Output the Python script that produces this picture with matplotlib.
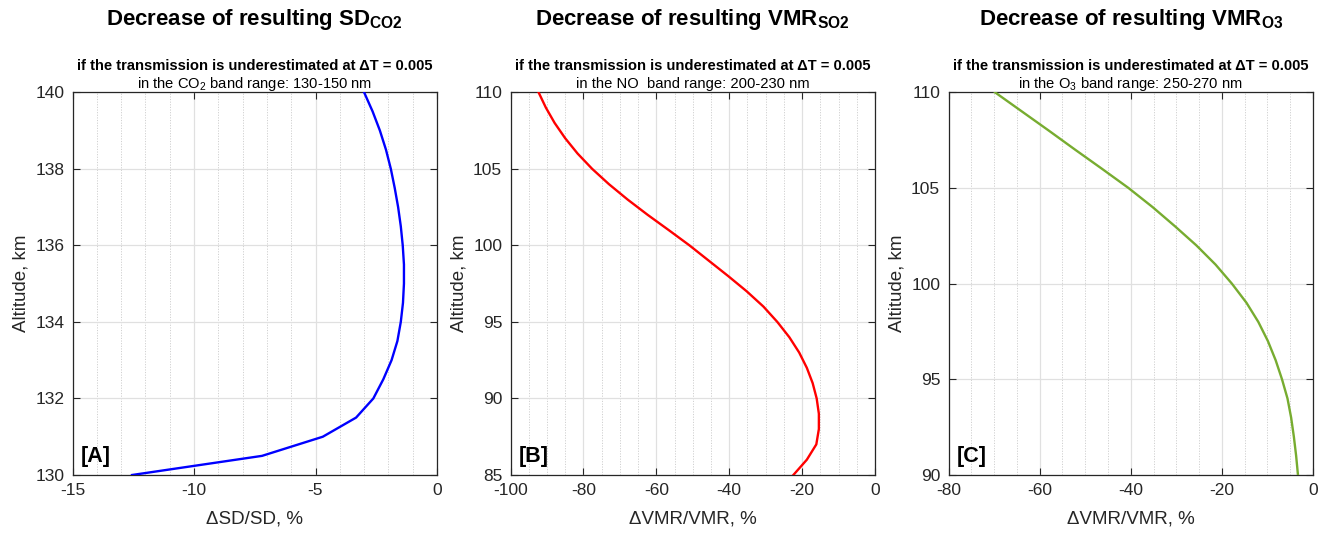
import matplotlib
matplotlib.use("Agg")
import matplotlib.pyplot as plt
from matplotlib.ticker import MultipleLocator

plt.rcParams['font.family'] = ['Liberation Sans', 'DejaVu Sans']
plt.rcParams['mathtext.fontset'] = 'custom'
plt.rcParams['mathtext.rm'] = 'Liberation Sans'
plt.rcParams['mathtext.bf'] = 'Liberation Sans:bold'
plt.rcParams['mathtext.it'] = 'Liberation Sans:italic'
plt.rcParams['axes.unicode_minus'] = False

# Panel A: CO2 slant density change
alt_a = [130, 130.5, 131, 131.5, 132, 132.5, 133, 133.5, 134, 134.5, 135,
         135.5, 136, 136.5, 137, 137.5, 138, 138.5, 139, 139.5, 140]
dsd_a = [-12.55, -7.2, -4.7, -3.33, -2.62, -2.21, -1.87, -1.63, -1.49, -1.40, -1.36,
         -1.36, -1.41, -1.49, -1.60, -1.74, -1.90, -2.10, -2.35, -2.65, -3.0]

# Panel B: SO2 VMR change
alt_b = list(range(85, 111))
dvmr_b = [-22.4, -18.7, -16.1, -15.4, -15.4, -16.0, -17.1, -18.7, -20.8, -23.5,
          -26.8, -30.6, -35.2, -40.3, -45.6, -50.9, -56.6, -62.4, -67.9, -73.0,
          -77.6, -81.6, -85.0, -87.9, -90.3, -92.3]

# Panel C: O3 VMR change
alt_c = list(range(90, 111))
dvmr_c = [-3.3, -3.7, -4.2, -4.8, -5.6, -6.8, -8.2, -9.9, -12.0, -14.6, -17.8,
          -21.4, -25.6, -30.3, -35.2, -40.5, -46.3, -52.2, -58.0, -63.9, -69.8]

titles = [r"Decrease of resulting SD$_{\mathbf{CO2}}$",
          r"Decrease of resulting VMR$_{\mathbf{SO2}}$",
          r"Decrease of resulting VMR$_{\mathbf{O3}}$"]
sub1 = "if the transmission is underestimated at \u0394T = 0.005"
sub2 = [r"in the CO$_2$ band range: 130-150 nm",
        "in the NO  band range: 200-230 nm",
        r"in the O$_3$ band range: 250-270 nm"]
xlabels = ["\u0394SD/SD, %", "\u0394VMR/VMR, %", "\u0394VMR/VMR, %"]
panel_tags = ["[A]", "[B]", "[C]"]

fig = plt.figure(figsize=(13.39, 5.38), dpi=100)
W, H = 1339, 538
lefts = [72.5, 510.5, 948.5]
axw = 364.5
bottom_px, top_px = 475, 92.3

specs = [
    (dsd_a, alt_a, 'blue', (-15, 0), (130, 140), 5, 1, 2),
    (dvmr_b, alt_b, 'red', (-100, 0), (85, 110), 20, 5, 5),
    (dvmr_c, alt_c, '#77AC30', (-80, 0), (90, 110), 20, 5, 5),
]

for i, (xv, yv, col, xl, yl, xmaj, xmin_, ymaj) in enumerate(specs):
    ax = fig.add_axes([lefts[i] / W, (H - bottom_px) / H, axw / W, (bottom_px - top_px) / H])
    ax.plot(xv, yv, color=col, lw=1.7, zorder=3)
    ax.set_xlim(*xl)
    ax.set_ylim(*yl)
    ax.xaxis.set_major_locator(MultipleLocator(xmaj))
    ax.xaxis.set_minor_locator(MultipleLocator(xmin_))
    ax.yaxis.set_major_locator(MultipleLocator(ymaj))
    ax.grid(True, which='major', color='#e0e0e0', lw=0.9, zorder=0)
    ax.grid(True, which='minor', axis='x', color='#d0d0d0', lw=0.7, ls=(0, (1.2, 1.5)), zorder=0)
    ax.tick_params(which='major', direction='in', top=True, right=True, length=5,
                   width=0.8, color='#262626', labelsize=12.5, pad=6, labelcolor='#262626')
    ax.tick_params(which='minor', length=0, top=True, right=True)
    for s in ax.spines.values():
        s.set_color('#262626')
        s.set_linewidth(0.9)
    ax.set_xlabel(xlabels[i], fontsize=13.5, color='#262626', labelpad=9)
    ax.set_ylabel("Altitude, km", fontsize=13.5, color='#262626', labelpad=4)
    ax.text(0.5, 1.175, titles[i], transform=ax.transAxes, ha='center', va='baseline',
            fontsize=16, fontweight='bold')
    ax.text(0.5, 1.057, sub1, transform=ax.transAxes, ha='center', va='baseline',
            fontsize=10.6, fontweight='bold')
    ax.text(0.5, 1.012, sub2[i], transform=ax.transAxes, ha='center', va='baseline',
            fontsize=10.6)
    ax.text(0.022, 0.035, panel_tags[i], transform=ax.transAxes, ha='left', va='baseline',
            fontsize=15.5, fontweight='bold')

fig.savefig("out.png", dpi=100)
